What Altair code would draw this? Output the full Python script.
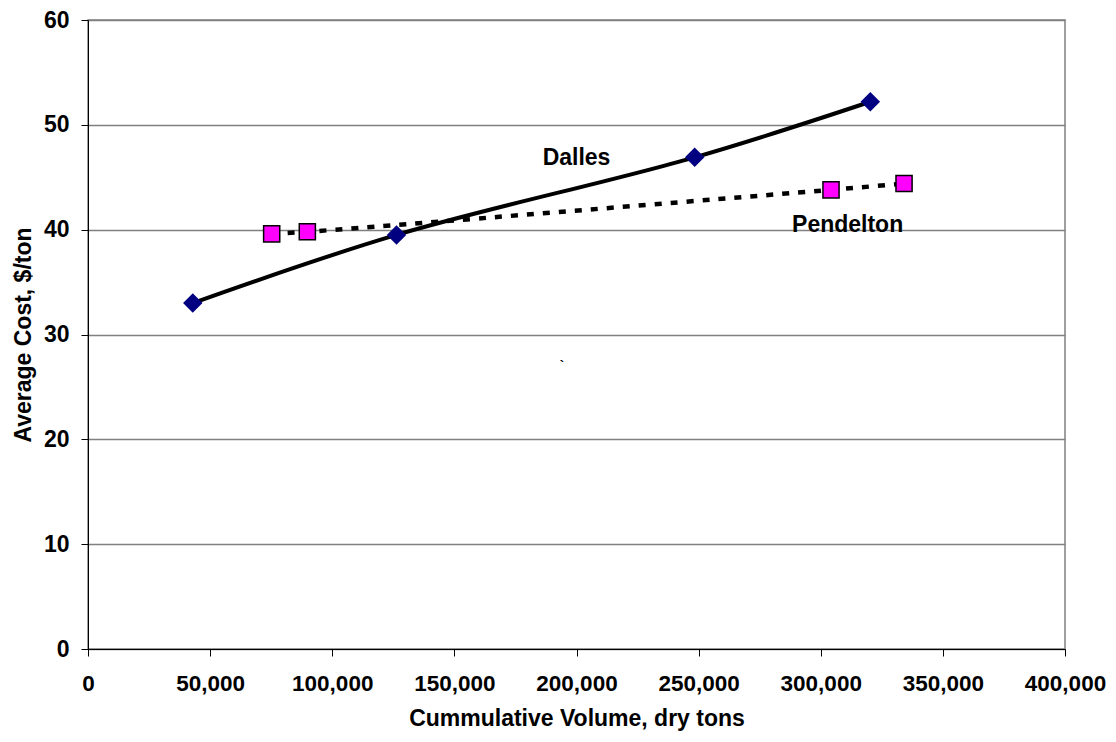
import altair as alt
import pandas as pd

dalles_x = [42900, 126300, 248400, 320300]
dalles_y = [33.0, 39.5, 46.9, 52.2]
pend_x = [75200, 89800, 304200, 334100]
pend_y = [39.6, 39.8, 43.8, 44.4]

labels = ["Dalles", "Pendelton", "`"]
label_x = [200000, 311000, 194000]
label_y = [46.85, 40.45, 27.0]
label_size = [23, 23, 13]

FONT = "Liberation Sans"
FS = 23

d1 = pd.DataFrame({"x": dalles_x, "y": dalles_y})
d2 = pd.DataFrame({"x": pend_x, "y": pend_y})
dl = pd.DataFrame({"x": label_x, "y": label_y, "t": labels, "s": label_size})

xs = alt.Scale(domain=[0, 400000], nice=False, zero=False)
ys = alt.Scale(domain=[0, 60], nice=False)

xenc = alt.X("x:Q", scale=xs, axis=alt.Axis(
    title="Cummulative Volume, dry tons", values=list(range(0, 400001, 50000)),
    format=",d", grid=False, domainColor="black", tickColor="black", tickSize=7,
    labelFont=FONT, labelFontSize=22.5, labelFontWeight="bold", labelColor="black",
    labelPadding=16, titleFont=FONT, titleFontSize=FS, titleFontWeight="bold",
    titleColor="black", titlePadding=13, labelFlush=False))
yenc = alt.Y("y:Q", scale=ys, axis=alt.Axis(
    title="Average Cost, $/ton", values=list(range(0, 61, 10)),
    grid=True, gridColor="#808080", gridWidth=1.5, domainColor="black",
    tickColor="black", tickSize=7,
    labelFont=FONT, labelFontSize=FS, labelFontWeight="bold", labelColor="black",
    labelPadding=12, titleFont=FONT, titleFontSize=FS, titleFontWeight="bold",
    titleColor="black", titlePadding=8))

line1 = alt.Chart(d1).mark_line(color="black", strokeWidth=4, interpolate="catmull-rom").encode(x=xenc, y=yenc)
pts1 = alt.Chart(d1).mark_point(shape="diamond", filled=True, color="#000080", size=380, opacity=1).encode(x="x:Q", y="y:Q")
line2 = alt.Chart(d2).mark_line(color="black", strokeWidth=4.5, strokeDash=[7, 9], interpolate="catmull-rom").encode(x="x:Q", y="y:Q")
pts2 = alt.Chart(d2).mark_point(shape="square", filled=True, fill="#FF00FF", stroke="black", strokeWidth=1.5, size=260, opacity=1).encode(x="x:Q", y="y:Q")
txt = alt.Chart(dl).mark_text(font=FONT, fontWeight="bold", color="black").encode(
    x="x:Q", y="y:Q", text="t:N", size=alt.Size("s:Q", scale=None, legend=None))

chart = alt.layer(line1, line2, pts1, pts2, txt).properties(
    width=977, height=629,
    autosize=alt.AutoSizeParams(type="none"),
    padding={"left": 80, "top": 12, "right": 43, "bottom": 85},
).configure_view(stroke="#808080", strokeWidth=1.5)

chart.save("out.html", embed_options={"renderer": "svg", "actions": False})
